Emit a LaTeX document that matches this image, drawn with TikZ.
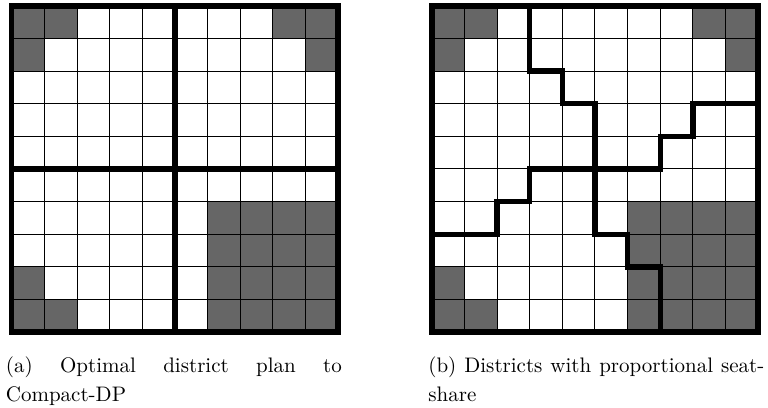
\documentclass[tikz,border=0pt]{standalone}
\definecolor{cellgray}{RGB}{102,102,102}
\tikzset{
  gridline/.style={line width=0.5pt, black},
  bound/.style={line width=2.6pt, black, line join=miter, line cap=rect},
  border/.style={line width=2.8pt, black, line join=miter},
  shade/.style={fill=cellgray},
  captext/.style={inner sep=0pt, anchor=north west, align=left,
    font=\fontsize{10.5}{14.5}\selectfont}
}
\begin{document}
\begin{tikzpicture}[x=0.5pt,y=-0.5pt]
\useasboundingbox (0,0) rectangle (768,408);
% ---------- left grid (a) ----------
\begin{scope}[shift={(11.7,5.7)}, x=16.325pt, y=-16.325pt]
  \foreach \c/\r in {0/0,1/0,8/0,9/0,0/1,9/1,0/8,0/9,1/9}
    \fill[shade] (\c,\r) rectangle ++(1,1);
  \fill[shade] (6,6) rectangle (10,10);
  \foreach \i in {1,...,9} {
    \draw[gridline] (\i,0) -- (\i,10);
    \draw[gridline] (0,\i) -- (10,\i);
  }
  \draw[bound] (5,0) -- (5,10) (0,5) -- (10,5);
  \draw[border] (0,0) rectangle (10,10);
\end{scope}
% ---------- right grid (b) ----------
\begin{scope}[shift={(431.7,5.7)}, x=16.325pt, y=-16.325pt]
  \foreach \c/\r in {0/0,1/0,8/0,9/0,0/1,9/1,0/8,0/9,1/9}
    \fill[shade] (\c,\r) rectangle ++(1,1);
  \fill[shade] (6,6) rectangle (10,10);
  \foreach \i in {1,...,9} {
    \draw[gridline] (\i,0) -- (\i,10);
    \draw[gridline] (0,\i) -- (10,\i);
  }
  \draw[bound] (3,0) -- (3,2) -- (4,2) -- (4,3) -- (5,3) -- (5,7) -- (6,7) -- (6,8) -- (7,8) -- (7,10);
  \draw[bound] (0,7) -- (2,7) -- (2,6) -- (3,6) -- (3,5) -- (7,5) -- (7,4) -- (8,4) -- (8,3) -- (10,3);
  \draw[border] (0,0) rectangle (10,10);
\end{scope}
% ---------- captions ----------
\node[captext] (capa) at (5.5,356) {\makebox[168pt][s]{(a) Optimal district plan to}\\Compact-DP};
\node[captext] (capb) at (428,356) {\makebox[168pt][s]{(b) Districts with proportional seat-}\\share};
\end{tikzpicture}
\end{document}
